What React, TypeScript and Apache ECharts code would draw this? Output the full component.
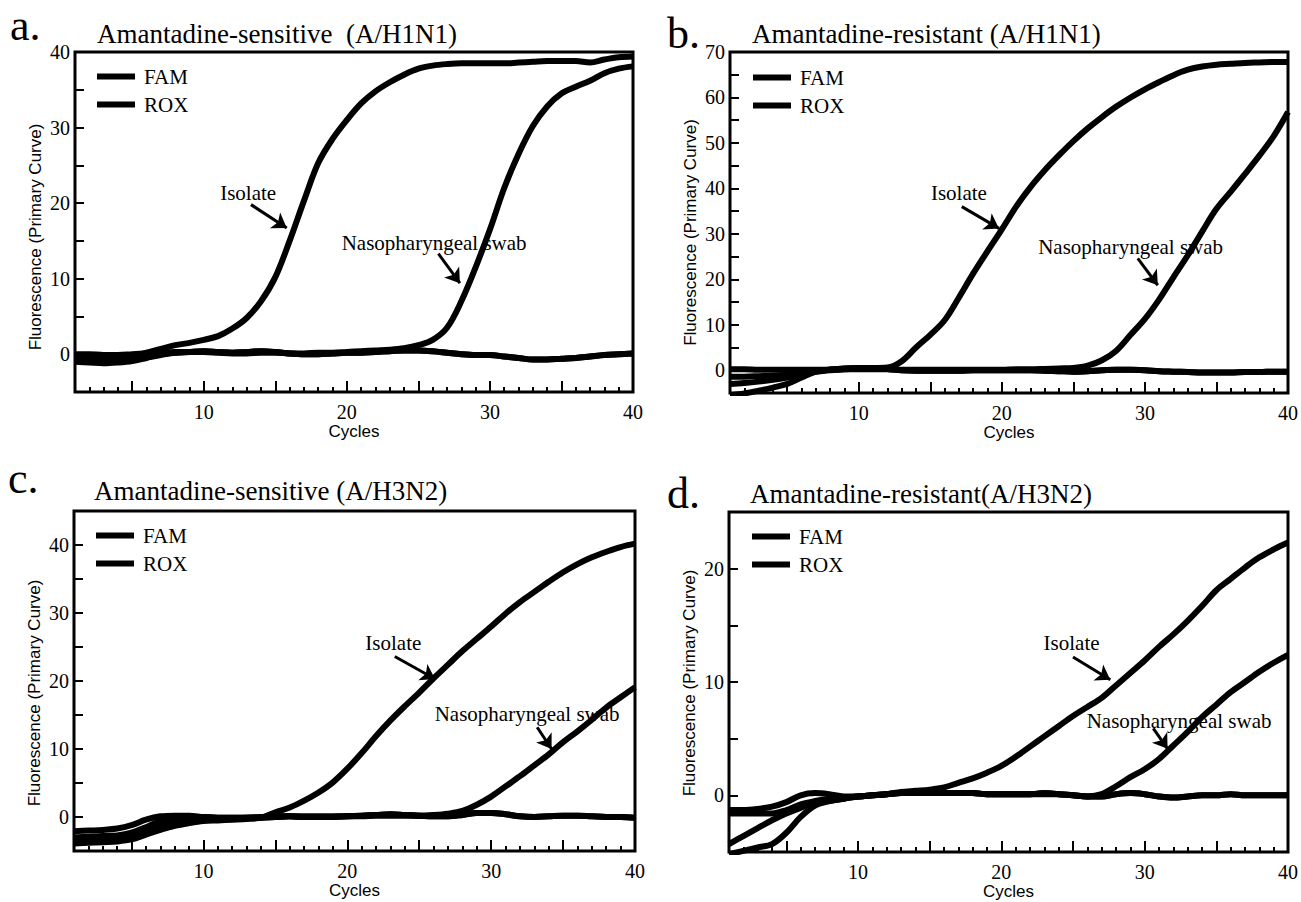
import { useEffect, useRef } from 'react';
import * as echarts from 'echarts';

// ---------- data ----------
const cycles = [1, 2, 3, 4, 5, 6, 7, 8, 9, 10, 11, 12, 13, 14, 15, 16, 17, 18, 19, 20,
  21, 22, 23, 24, 25, 26, 27, 28, 29, 30, 31, 32, 33, 34, 35, 36, 37, 38, 39, 40];
const xTickLabels = [10, 20, 30, 40];
const xMajorTicks = [5, 10, 15, 20, 25, 30, 35, 40];
const legendNames = ['FAM', 'ROX'];

// Panel a: Amantadine-sensitive (A/H1N1)
const aFamIsolate = [-0.6, -0.6, -0.7, -0.6, -0.2, 0.2, 0.7, 1.2, 1.5, 1.9, 2.4, 3.4, 4.8, 7.0, 10.2, 15.0, 20.3, 25.3, 28.5, 31.0,
  33.2, 34.8, 36.0, 37.0, 37.8, 38.2, 38.4, 38.5, 38.5, 38.5, 38.5, 38.6, 38.7, 38.8, 38.8, 38.8, 38.6, 39.0, 39.3, 39.4];
const aFamSwab = [-0.8, -0.9, -1.0, -1.0, -0.8, -0.4, 0.0, 0.2, 0.3, 0.3, 0.2, 0.1, 0.1, 0.2, 0.2, 0.1, 0.1, 0.2, 0.2, 0.3,
  0.4, 0.5, 0.6, 0.8, 1.2, 1.9, 3.5, 7.0, 11.5, 16.5, 22.0, 26.5, 30.2, 32.8, 34.5, 35.4, 36.2, 37.2, 37.8, 38.1];
const aRox1 = [0.0, 0.0, -0.1, -0.1, 0.0, 0.1, 0.2, 0.3, 0.3, 0.4, 0.3, 0.2, 0.3, 0.4, 0.3, 0.1, 0.0, 0.0, 0.1, 0.2,
  0.2, 0.3, 0.4, 0.5, 0.5, 0.4, 0.2, 0.0, -0.1, -0.1, -0.3, -0.5, -0.7, -0.7, -0.6, -0.5, -0.3, -0.1, 0.0, 0.1];
const aRox2 = [-1.0, -1.1, -1.2, -1.1, -0.9, -0.5, -0.1, 0.2, 0.3, 0.4, 0.3, 0.2, 0.3, 0.4, 0.3, 0.1, 0.0, 0.0, 0.1, 0.2,
  0.2, 0.3, 0.4, 0.5, 0.5, 0.4, 0.2, 0.0, -0.1, -0.1, -0.3, -0.5, -0.7, -0.7, -0.6, -0.5, -0.3, -0.1, 0.0, 0.1];
const aYLabels = [0, 10, 20, 30, 40];

// Panel b: Amantadine-resistant (A/H1N1)
const bFamIsolate = [-3.0, -2.8, -2.5, -2.1, -1.6, -1.0, -0.3, 0.1, 0.4, 0.5, 0.5, 0.6, 2.0, 5.0, 7.8, 11.0, 16.0, 21.3, 26.2, 31.0,
  36.0, 40.3, 44.0, 47.3, 50.4, 53.2, 55.7, 58.0, 60.0, 61.8, 63.4, 64.9, 66.1, 66.8, 67.2, 67.4, 67.6, 67.7, 67.8, 67.8];
const bFamSwab = [-5.5, -5.1, -4.5, -3.8, -3.0, -1.6, -0.3, 0.1, 0.2, 0.2, 0.2, 0.2, 0.1, 0.1, 0.1, 0.1, 0.1, 0.1, 0.1, 0.1,
  0.2, 0.2, 0.3, 0.4, 0.5, 1.0, 2.2, 4.3, 7.8, 11.3, 15.6, 20.5, 25.3, 30.5, 35.5, 39.3, 43.2, 47.2, 51.5, 56.8];
const bRox1 = [0.2, 0.2, 0.1, 0.1, 0.1, 0.1, 0.1, 0.2, 0.4, 0.5, 0.5, 0.3, 0.0, -0.1, -0.1, -0.1, -0.1, 0.0, 0.0, 0.0,
  0.0, 0.0, -0.1, -0.2, -0.3, -0.2, 0.0, 0.1, 0.1, 0.0, -0.2, -0.3, -0.4, -0.5, -0.5, -0.5, -0.4, -0.4, -0.3, -0.3];
const bRox2 = [-1.4, -1.4, -1.3, -1.2, -0.9, -0.6, -0.3, 0.0, 0.2, 0.4, 0.5, 0.3, 0.0, -0.1, -0.1, -0.1, -0.1, 0.0, 0.0, 0.0,
  0.0, 0.0, -0.1, -0.2, -0.3, -0.2, 0.0, 0.1, 0.1, 0.0, -0.2, -0.3, -0.4, -0.5, -0.5, -0.5, -0.4, -0.4, -0.3, -0.3];
const bYLabels = [0, 10, 20, 30, 40, 50, 60, 70];

// Panel c: Amantadine-sensitive (A/H3N2)
const cFamIsolate = [-3.9, -3.8, -3.7, -3.6, -3.3, -2.6, -1.9, -1.3, -0.9, -0.6, -0.5, -0.4, -0.3, -0.1, 0.7, 1.4, 2.4, 3.6, 5.1, 7.1,
  9.4, 11.9, 14.2, 16.3, 18.3, 20.4, 22.4, 24.4, 26.2, 28.0, 29.9, 31.6, 33.1, 34.6, 36.0, 37.2, 38.2, 39.0, 39.7, 40.2];
const cFamSwab = [-3.3, -3.2, -3.1, -3.0, -2.7, -1.9, -1.1, -0.6, -0.4, -0.3, -0.2, -0.2, -0.1, 0.0, 0.1, 0.1, 0.1, 0.1, 0.1, 0.1,
  0.1, 0.2, 0.2, 0.2, 0.2, 0.3, 0.5, 0.9, 1.8, 3.0, 4.5, 6.0, 7.6, 9.2, 11.0, 12.6, 14.3, 16.1, 17.6, 19.1];
const cRox1 = [-2.1, -2.0, -1.9, -1.7, -1.2, -0.4, 0.1, 0.2, 0.2, 0.0, -0.1, -0.1, -0.1, -0.1, 0.0, 0.1, 0.0, 0.0, 0.0, 0.1,
  0.2, 0.3, 0.4, 0.3, 0.2, 0.1, 0.1, 0.3, 0.6, 0.6, 0.4, 0.1, 0.0, 0.1, 0.2, 0.2, 0.1, 0.0, 0.0, -0.1];
const cRox2 = [-3.0, -2.9, -2.8, -2.7, -2.3, -1.5, -0.6, -0.2, 0.0, 0.0, -0.1, -0.1, -0.1, -0.1, 0.0, 0.1, 0.0, 0.0, 0.0, 0.1,
  0.2, 0.3, 0.4, 0.3, 0.2, 0.1, 0.1, 0.3, 0.6, 0.6, 0.4, 0.1, 0.0, 0.1, 0.2, 0.2, 0.1, 0.0, 0.0, -0.1];
const cYLabels = [0, 10, 20, 30, 40];

// Panel d: Amantadine-resistant(A/H3N2)
const dFamIsolate = [-4.3, -3.6, -2.9, -2.2, -1.6, -1.1, -0.7, -0.5, -0.3, -0.1, 0.0, 0.1, 0.3, 0.4, 0.5, 0.7, 1.1, 1.5, 2.0, 2.6,
  3.4, 4.3, 5.2, 6.1, 7.0, 7.8, 8.6, 9.7, 10.8, 11.9, 13.1, 14.2, 15.4, 16.7, 18.1, 19.1, 20.1, 21.0, 21.7, 22.3];
const dFamSwab = [-5.2, -4.9, -4.6, -4.3, -3.3, -1.9, -0.9, -0.5, -0.3, -0.1, 0.0, 0.1, 0.2, 0.2, 0.2, 0.2, 0.2, 0.2, 0.1, 0.1,
  0.1, 0.1, 0.1, 0.1, 0.0, -0.1, 0.1, 0.8, 1.6, 2.3, 3.2, 4.4, 5.6, 6.9, 8.0, 9.1, 10.0, 10.9, 11.7, 12.4];
const dRox1 = [-1.3, -1.3, -1.2, -1.0, -0.6, 0.0, 0.2, 0.1, -0.1, -0.1, 0.0, 0.1, 0.2, 0.2, 0.2, 0.2, 0.2, 0.2, 0.1, 0.1,
  0.1, 0.1, 0.2, 0.1, 0.0, -0.1, -0.1, 0.1, 0.2, 0.1, -0.1, -0.2, -0.1, 0.0, 0.0, 0.1, 0.0, 0.0, 0.0, 0.0];
const dRox2 = [-1.6, -1.6, -1.6, -1.6, -1.3, -0.8, -0.5, -0.3, -0.2, -0.1, 0.0, 0.1, 0.2, 0.2, 0.2, 0.2, 0.2, 0.2, 0.1, 0.1,
  0.1, 0.1, 0.2, 0.1, 0.0, -0.1, -0.1, 0.1, 0.2, 0.1, -0.1, -0.2, -0.1, 0.0, 0.0, 0.1, 0.0, 0.0, 0.0, 0.0];
const dYLabels = [0, 10, 20];

// annotation anchors (data coordinates: [cycle, fluorescence])
const aIsolateText = [13.1, 21.4];
const aIsolateArrow = [[13.3, 19.8], [15.8, 16.7]];
const aSwabText = [26.1, 14.7];
const aSwabArrow = [[26.4, 13.3], [27.9, 9.4]];
const bIsolateText = [17.0, 39.0];
const bIsolateArrow = [[17.2, 36.0], [19.8, 31.2]];
const bSwabText = [29.0, 27.2];
const bSwabArrow = [[29.5, 24.6], [30.9, 18.7]];
const cIsolateText = [23.2, 25.6];
const cIsolateArrow = [[23.3, 23.6], [26.1, 20.3]];
const cSwabText = [32.5, 15.2];
const cSwabArrow = [[33.2, 13.2], [34.2, 10.0]];
const dIsolateText = [24.9, 13.4];
const dIsolateArrow = [[25.0, 12.2], [27.6, 10.2]];
const dSwabText = [32.4, 6.6];
const dSwabArrow = [[30.6, 5.9], [31.6, 4.1]];

const SERIF = '"Liberation Serif", "Times New Roman", serif';
const SANS = '"Liberation Sans", Arial, sans-serif';

type Panel = {
  letter: string;
  letterPos: number[];
  title: string;
  titlePos: number[];
  box: number[];
  yMax: number;
  yLabels: number[];
  yNameShift: number;
  famIsolate: number[];
  famSwab: number[];
  rox1: number[];
  rox2: number[];
  isoText: number[];
  isoArrow: number[][];
  swabText: number[];
  swabArrow: number[][];
  swabLabel: string;
  legendPos: number[];
};

const panels: Panel[] = [
  {
    letter: 'a.', letterPos: [10, 25], title: 'Amantadine-sensitive  (A/H1N1)', titlePos: [97, 34],
    box: [75, 52, 558, 340], yMax: 40, yLabels: aYLabels, yNameShift: 30,
    famIsolate: aFamIsolate, famSwab: aFamSwab, rox1: aRox1, rox2: aRox2,
    isoText: aIsolateText, isoArrow: aIsolateArrow, swabText: aSwabText, swabArrow: aSwabArrow,
    swabLabel: 'Nasopharyngeal swab', legendPos: [92, 61],
  },
  {
    letter: 'b.', letterPos: [667, 33], title: 'Amantadine-resistant (A/H1N1)', titlePos: [752, 34],
    box: [730, 52, 561, 341], yMax: 70, yLabels: bYLabels, yNameShift: 20,
    famIsolate: bFamIsolate, famSwab: bFamSwab, rox1: bRox1, rox2: bRox2,
    isoText: bIsolateText, isoArrow: bIsolateArrow, swabText: bSwabText, swabArrow: bSwabArrow,
    swabLabel: 'Nasopharyngeal swab', legendPos: [748, 62],
  },
  {
    letter: 'c.', letterPos: [8, 478], title: 'Amantadine-sensitive (A/H3N2)', titlePos: [94, 491],
    box: [74, 511, 561, 340], yMax: 45, yLabels: cYLabels, yNameShift: 24,
    famIsolate: cFamIsolate, famSwab: cFamSwab, rox1: cRox1, rox2: cRox2,
    isoText: cIsolateText, isoArrow: cIsolateArrow, swabText: cSwabText, swabArrow: cSwabArrow,
    swabLabel: 'Nasopharyngeal swab', legendPos: [91, 520],
  },
  {
    letter: 'd.', letterPos: [667, 493], title: 'Amantadine-resistant(A/H3N2)', titlePos: [750, 494],
    box: [729, 512, 561, 340], yMax: 25, yLabels: dYLabels, yNameShift: 2,
    famIsolate: dFamIsolate, famSwab: dFamSwab, rox1: dRox1, rox2: dRox2,
    isoText: dIsolateText, isoArrow: dIsolateArrow, swabText: dSwabText, swabArrow: dSwabArrow,
    swabLabel: 'Nasopharyngeal swab', legendPos: [747, 521],
  },
];

function buildOption() {
  const minorTicks = cycles.slice();
  const grids: any[] = [];
  const xAxes: any[] = [];
  const yAxes: any[] = [];
  const series: any[] = [];
  const legends: any[] = [];
  const graphics: any[] = [];

  panels.forEach((p, i) => {
    grids.push({
      left: p.box[0], top: p.box[1], width: p.box[2], height: p.box[3],
      show: true, borderColor: '#000', borderWidth: 3, backgroundColor: 'transparent',
    });
    xAxes.push({
      gridIndex: i, type: 'value', min: 1, max: 40, position: 'bottom',
      axisLine: { show: false, onZero: false },
      axisTick: { show: true, inside: true, length: 11, lineStyle: { color: '#000', width: 2 }, customValues: xMajorTicks },
      axisLabel: { show: true, customValues: xTickLabels, color: '#000', fontFamily: SERIF, fontSize: 20, margin: 10 },
      splitLine: { show: false },
      name: 'Cycles', nameLocation: 'middle', nameGap: 31,
      nameTextStyle: { color: '#000', fontFamily: SANS, fontSize: 17 },
    });
    xAxes.push({
      gridIndex: i, type: 'value', min: 1, max: 40, position: 'bottom', offset: 0,
      axisLine: { show: false, onZero: false },
      axisTick: { show: true, inside: true, length: 5, lineStyle: { color: '#000', width: 2 }, customValues: minorTicks },
      axisLabel: { show: false },
      splitLine: { show: false },
    });
    yAxes.push({
      gridIndex: i, type: 'value', min: -5, max: p.yMax, interval: 5,
      axisLine: { show: false, onZero: false },
      axisTick: { show: true, inside: true, length: 9, lineStyle: { color: '#000', width: 2 } },
      axisLabel: { show: true, customValues: p.yLabels, color: '#000', fontFamily: SERIF, fontSize: 20, margin: 5 },
      splitLine: { show: false },
      name: 'Fluorescence (Primary Curve)', nameLocation: 'middle', nameGap: 31,
      nameTextStyle: { color: '#000', fontFamily: SANS, fontSize: 17, padding: [0, p.yNameShift, 0, 0] },
    });

    const xi = 2 * i;
    const mk = (name: string, values: number[], extra: any = {}) => ({
      type: 'line', name, xAxisIndex: xi, yAxisIndex: i,
      data: cycles.map((c, k) => [c, values[k]]),
      smooth: 0.35, showSymbol: false, symbol: 'none',
      lineStyle: { color: '#000', width: 6 }, itemStyle: { color: '#000' },
      emphasis: { disabled: true }, silent: true,
      ...extra,
    });
    const annLabel = { show: true, position: 'inside', formatter: '{b}', color: '#000', fontFamily: SERIF, fontSize: 21 };
    const arrowLine = (pts: number[][]) => [{ coord: pts[0] }, { coord: pts[1] }];
    series.push(mk('ROX', p.rox1));
    series.push(mk('ROX', p.rox2));
    series.push(mk('FAM', p.famSwab));
    series.push(mk('FAM', p.famIsolate, {
      markPoint: {
        symbol: 'circle', symbolSize: 0, silent: true,
        label: annLabel,
        data: [
          { name: 'Isolate', coord: p.isoText },
          { name: p.swabLabel, coord: p.swabText },
        ],
      },
      markLine: {
        silent: true, symbol: ['none', 'arrow'], symbolSize: 14,
        label: { show: false },
        lineStyle: { color: '#000', width: 3, type: 'solid' },
        itemStyle: { color: '#000' },
        emphasis: { disabled: true },
        data: [arrowLine(p.isoArrow), arrowLine(p.swabArrow)],
      },
    }));

    legends.push({
      data: legendNames, orient: 'vertical', left: p.legendPos[0], top: p.legendPos[1],
      icon: 'rect', itemWidth: 38, itemHeight: 6, itemGap: 7, selectedMode: false,
      itemStyle: { color: '#000' },
      textStyle: { color: '#000', fontFamily: SERIF, fontSize: 21, padding: [0, 0, 0, 4] },
    });

    graphics.push({
      type: 'text', x: p.letterPos[0], y: p.letterPos[1],
      style: { text: p.letter, font: `44px ${SERIF}`, fill: '#000', align: 'left', verticalAlign: 'middle' },
    });
    graphics.push({
      type: 'text', x: p.titlePos[0], y: p.titlePos[1],
      style: { text: p.title, font: `27px ${SERIF}`, fill: '#000', align: 'left', verticalAlign: 'middle' },
    });
  });

  return {
    animation: false,
    backgroundColor: '#fff',
    grid: grids,
    xAxis: xAxes,
    yAxis: yAxes,
    legend: legends,
    series,
    graphic: graphics,
  };
}

export default function App() {
  const ref = useRef<HTMLDivElement>(null);
  useEffect(() => {
    if (!ref.current) return;
    const chart = echarts.init(ref.current, undefined, { renderer: 'svg' });
    chart.setOption(buildOption() as any);
    return () => chart.dispose();
  }, []);
  return <div ref={ref} style={{ position: 'absolute', left: 0, top: 0, width: 1301, height: 902 }} />;
}
